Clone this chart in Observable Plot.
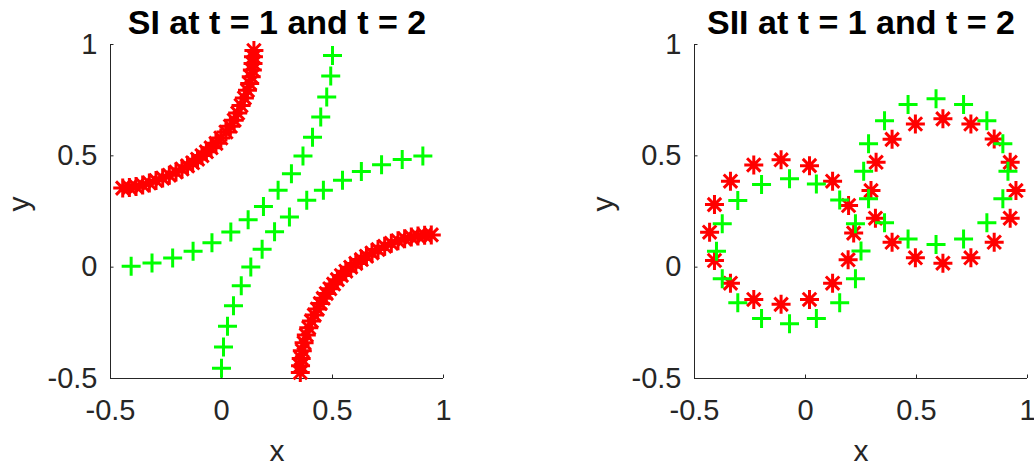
<!DOCTYPE html>
<html>
<head>
<meta charset="utf-8">
<script src="https://cdn.jsdelivr.net/npm/d3@7"></script>
<script src="https://cdn.jsdelivr.net/npm/@observablehq/plot@0.6"></script>
<style>
  html, body { margin: 0; padding: 0; background: #fff; }
  #chart { display: flex; width: 1034px; height: 466px; }
</style>
</head>
<body>
<div id="chart"></div>
<script>
// Shared axis ticks and labels
const ticks = [-0.5, 0, 0.5, 1];
const tickLabels = ["-0.5", "0", "0.5", "1"];
const titles = ["SI at t = 1 and t = 2", "SII at t = 1 and t = 2"];

// SI, t = 2 (red): two branches
const siRedUpper = [
  [-0.445, 0.355], [-0.415, 0.358], [-0.385, 0.362], [-0.355, 0.369], [-0.325, 0.378],
  [-0.295, 0.389], [-0.265, 0.400], [-0.235, 0.413], [-0.205, 0.427], [-0.178, 0.441],
  [-0.153, 0.455], [-0.130, 0.469], [-0.108, 0.485], [-0.088, 0.501], [-0.068, 0.518],
  [-0.047, 0.536], [-0.025, 0.556], [-0.003, 0.580], [0.020, 0.607], [0.040, 0.633],
  [0.057, 0.660], [0.073, 0.692], [0.088, 0.726], [0.103, 0.760], [0.117, 0.794],
  [0.127, 0.825], [0.134, 0.855], [0.139, 0.885], [0.142, 0.915], [0.144, 0.945],
  [0.146, 0.973]
];
const siRedLower = [
  [0.945, 0.145], [0.915, 0.143], [0.885, 0.140], [0.855, 0.135], [0.825, 0.128],
  [0.795, 0.119], [0.765, 0.107], [0.735, 0.094], [0.705, 0.079], [0.678, 0.064],
  [0.653, 0.049], [0.630, 0.034], [0.605, 0.017], [0.582, 0.000], [0.560, -0.018],
  [0.540, -0.037], [0.522, -0.056], [0.505, -0.076], [0.488, -0.097], [0.472, -0.118],
  [0.458, -0.140], [0.445, -0.163], [0.432, -0.188], [0.418, -0.215], [0.405, -0.242],
  [0.393, -0.272], [0.382, -0.305], [0.372, -0.340], [0.364, -0.375], [0.359, -0.410],
  [0.356, -0.443], [0.355, -0.473]
];

// SI, t = 1 (green): two curves
const siGreenA = [
  [0.000, -0.454], [0.009, -0.358], [0.027, -0.265], [0.054, -0.173], [0.089, -0.083],
  [0.132, 0.001], [0.183, 0.081], [0.239, 0.159], [0.306, 0.225], [0.384, 0.300],
  [0.459, 0.345], [0.545, 0.390], [0.630, 0.430], [0.721, 0.460], [0.814, 0.483],
  [0.907, 0.499]
];
const siGreenB = [
  [-0.407, 0.004], [-0.313, 0.019], [-0.220, 0.041], [-0.128, 0.071], [-0.043, 0.110],
  [0.042, 0.158], [0.120, 0.213], [0.189, 0.273], [0.255, 0.345], [0.315, 0.420],
  [0.367, 0.499], [0.410, 0.584], [0.447, 0.674], [0.474, 0.764], [0.492, 0.858],
  [0.500, 0.951]
];

// SII, t = 2 (red): two rings
const siiRed1 = [
  [-0.110, 0.482], [0.018, 0.456], [0.122, 0.386], [0.194, 0.277], [0.217, 0.153],
  [0.192, 0.033], [0.122, -0.072], [0.018, -0.145], [-0.110, -0.167], [-0.233, -0.145],
  [-0.338, -0.072], [-0.410, 0.030], [-0.432, 0.157], [-0.410, 0.281], [-0.338, 0.386],
  [-0.233, 0.459]
];
const siiRed2 = [
  [0.619, 0.666], [0.745, 0.643], [0.850, 0.576], [0.922, 0.471], [0.948, 0.344],
  [0.922, 0.220], [0.850, 0.112], [0.745, 0.042], [0.619, 0.018], [0.495, 0.042],
  [0.390, 0.112], [0.315, 0.220], [0.295, 0.344], [0.318, 0.471], [0.390, 0.574],
  [0.495, 0.643]
];

// SII, t = 1 (green): two rings
const siiGreen1 = [
  [-0.072, 0.397], [0.049, 0.374], [0.154, 0.302], [0.225, 0.195], [0.250, 0.073],
  [0.225, -0.052], [0.154, -0.160], [0.049, -0.231], [-0.072, -0.254], [-0.198, -0.231],
  [-0.305, -0.160], [-0.375, -0.052], [-0.401, 0.072], [-0.375, 0.195], [-0.305, 0.299],
  [-0.198, 0.371]
];
const siiGreen2 = [
  [0.588, 0.756], [0.712, 0.730], [0.817, 0.658], [0.889, 0.554], [0.912, 0.431],
  [0.889, 0.307], [0.817, 0.199], [0.712, 0.127], [0.588, 0.102], [0.462, 0.127],
  [0.356, 0.199], [0.284, 0.307], [0.262, 0.431], [0.284, 0.554], [0.356, 0.658],
  [0.462, 0.730]
];

// Marker shapes: eight-armed asterisk and plus; arm length = sqrt(size / PI)
const asterisk8 = {
  draw(context, size) {
    const r = Math.sqrt(size / Math.PI), d = r * Math.SQRT1_2;
    context.moveTo(-r, 0); context.lineTo(r, 0);
    context.moveTo(0, -r); context.lineTo(0, r);
    context.moveTo(-d, -d); context.lineTo(d, d);
    context.moveTo(-d, d); context.lineTo(d, -d);
  }
};
const plusMark = {
  draw(context, size) {
    const r = Math.sqrt(size / Math.PI);
    context.moveTo(-r, 0); context.lineTo(r, 0);
    context.moveTo(0, -r); context.lineTo(0, r);
  }
};

const axisColor = "#262626";
const fontFamily = "'Liberation Sans', Arial, Helvetica, sans-serif";

function panel({title, red, green, marginLeft, marginRight}) {
  const fmt = d => tickLabels[ticks.indexOf(d)];
  return Plot.plot({
    width: 517,
    height: 466,
    marginTop: 44,
    marginBottom: 88,
    marginLeft,
    marginRight,
    style: {fontFamily, fontSize: "29px", color: axisColor, background: "white", overflow: "visible"},
    x: {domain: [-0.5, 1]},
    y: {domain: [-0.5, 1]},
    marks: [
      Plot.ruleY([-0.5], {stroke: axisColor, strokeWidth: 1}),
      Plot.ruleX([-0.5], {stroke: axisColor, strokeWidth: 1}),
      Plot.axisX(ticks, {tickSize: -3.5, tickPadding: 24.5, tickFormat: fmt, fontSize: 29, stroke: axisColor, fill: axisColor}),
      Plot.axisY(ticks, {tickSize: -3.5, tickPadding: 16.5, tickFormat: fmt, fontSize: 29, stroke: axisColor, fill: axisColor}),
      ...red.map(series => Plot.dot(series, {
        x: d => d[0], y: d => d[1], symbol: asterisk8, r: 9.5,
        fill: "none", stroke: "#ff0000", strokeWidth: 3
      })),
      ...green.map(series => Plot.dot(series, {
        x: d => d[0], y: d => d[1], symbol: plusMark, r: 9.5,
        fill: "none", stroke: "#00ff00", strokeWidth: 3
      })),
      Plot.text([title], {frameAnchor: "top", dy: -11, lineAnchor: "bottom", fontSize: 34, fontWeight: "bold", fill: "#000"}),
      Plot.text(["x"], {frameAnchor: "bottom", dy: 73, lineAnchor: "middle", fontSize: 30, fill: axisColor}),
      Plot.text(["y"], {frameAnchor: "left", dx: -91, lineAnchor: "middle", rotate: -90, fontSize: 30, fill: axisColor})
    ]
  });
}

const chart = document.getElementById("chart");
chart.append(panel({title: titles[0], red: [siRedUpper, siRedLower], green: [siGreenA, siGreenB], marginLeft: 110, marginRight: 74}));
chart.append(panel({title: titles[1], red: [siiRed1, siiRed2], green: [siiGreen1, siiGreen2], marginLeft: 177, marginRight: 7}));
</script>
</body>
</html>
